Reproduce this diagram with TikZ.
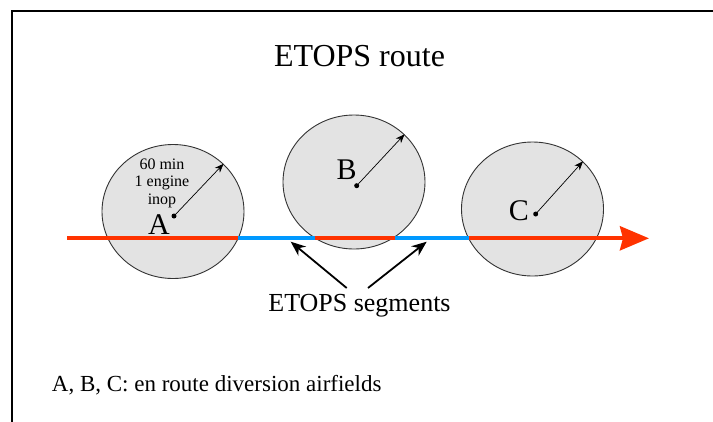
\documentclass[tikz,border=0pt]{standalone}
\usepackage{fontspec}
\setmainfont{Liberation Serif}
\usetikzlibrary{shapes.geometric,arrows.meta}
\definecolor{routered}{HTML}{FF3300}
\definecolor{routeblue}{HTML}{0099FF}
\definecolor{airfill}{HTML}{E3E3E3}
\definecolor{airline}{HTML}{333333}
\tikzset{
  airfield/.style={ellipse,draw=airline,fill=airfill,line width=0.9pt,minimum width=142pt,minimum height=134pt,inner sep=0pt},
  radius/.style={line width=0.7pt,-{Stealth[length=9pt,width=7pt]}},
  dotmark/.style={circle,fill=black,inner sep=0pt,minimum size=5pt},
  redseg/.style={routered,line width=4pt},
  blueseg/.style={routeblue,line width=4pt},
  pointer/.style={line width=1.8pt,-{Stealth[length=15pt,width=12pt]}},
  bigletter/.style={font=\fontsize{30}{30}\selectfont,anchor=base,inner sep=0pt},
}
\begin{document}
\begin{tikzpicture}[x=1pt,y=-1pt]
\useasboundingbox (0,0) rectangle (713,421);
% frame
\draw[line width=2pt] (12,430) -- (12,11) -- (720,11);
% title
\node[font=\fontsize{32}{32}\selectfont,anchor=base,inner sep=0pt] (title) at (359.5,66.7) {ETOPS route};
% airfields
\node[airfield] (A) at (173,211.5) {};
\node[airfield] (B) at (354,182) {};
\node[airfield] (C) at (532.5,209) {};
% route
\coordinate (r0) at (67,238.3);
\coordinate (r1) at (238,238.3);
\coordinate (r2) at (315,238.3);
\coordinate (r3) at (395,238.3);
\coordinate (r4) at (469,238.3);
\coordinate (r5) at (649,238.3);
\draw[redseg] (r0) -- (r1);
\draw[blueseg] (r1) -- (r2);
\draw[redseg] (r2) -- (r3);
\draw[blueseg] (r3) -- (r4);
\draw[redseg,-{Stealth[length=29pt,width=24pt,inset=3pt]}] (r4) -- (r5);
% centre dots and radii
\node[dotmark] (dA) at (174,216) {};
\node[dotmark] (dB) at (356.7,185.7) {};
\node[dotmark] (dC) at (535.7,214) {};
\draw[radius] (dA.center) -- (A.north east);
\draw[radius] (dB.center) -- (B.north east);
\draw[radius] (dC.center) -- (C.north east);
% labels
\node[bigletter] (la) at (159,234) {A};
\node[bigletter] (lb) at (346.7,179.3) {B};
\node[bigletter] (lc) at (519,220.7) {C};
\node[font=\fontsize{16}{17.4}\selectfont,align=center,anchor=base,inner sep=0pt] (note) at (162,204) {60 min\\1 engine\\inop};
% ETOPS segments
\node[font=\fontsize{26}{26}\selectfont,anchor=base,inner sep=0pt] (seg) at (359.5,311.7) {ETOPS segments};
\coordinate (pl) at (346.7,288);
\coordinate (pr) at (368,288);
\coordinate (tl) at (290.7,241.7);
\coordinate (tr) at (426.7,241.7);
\draw[pointer] (pl) -- (tl);
\draw[pointer] (pr) -- (tr);
% legend
\node[font=\fontsize{23}{23}\selectfont,anchor=base west,inner sep=0pt] (legend) at (51.7,391.7) {A, B, C: en route diversion airfields};
\end{tikzpicture}
\end{document}
